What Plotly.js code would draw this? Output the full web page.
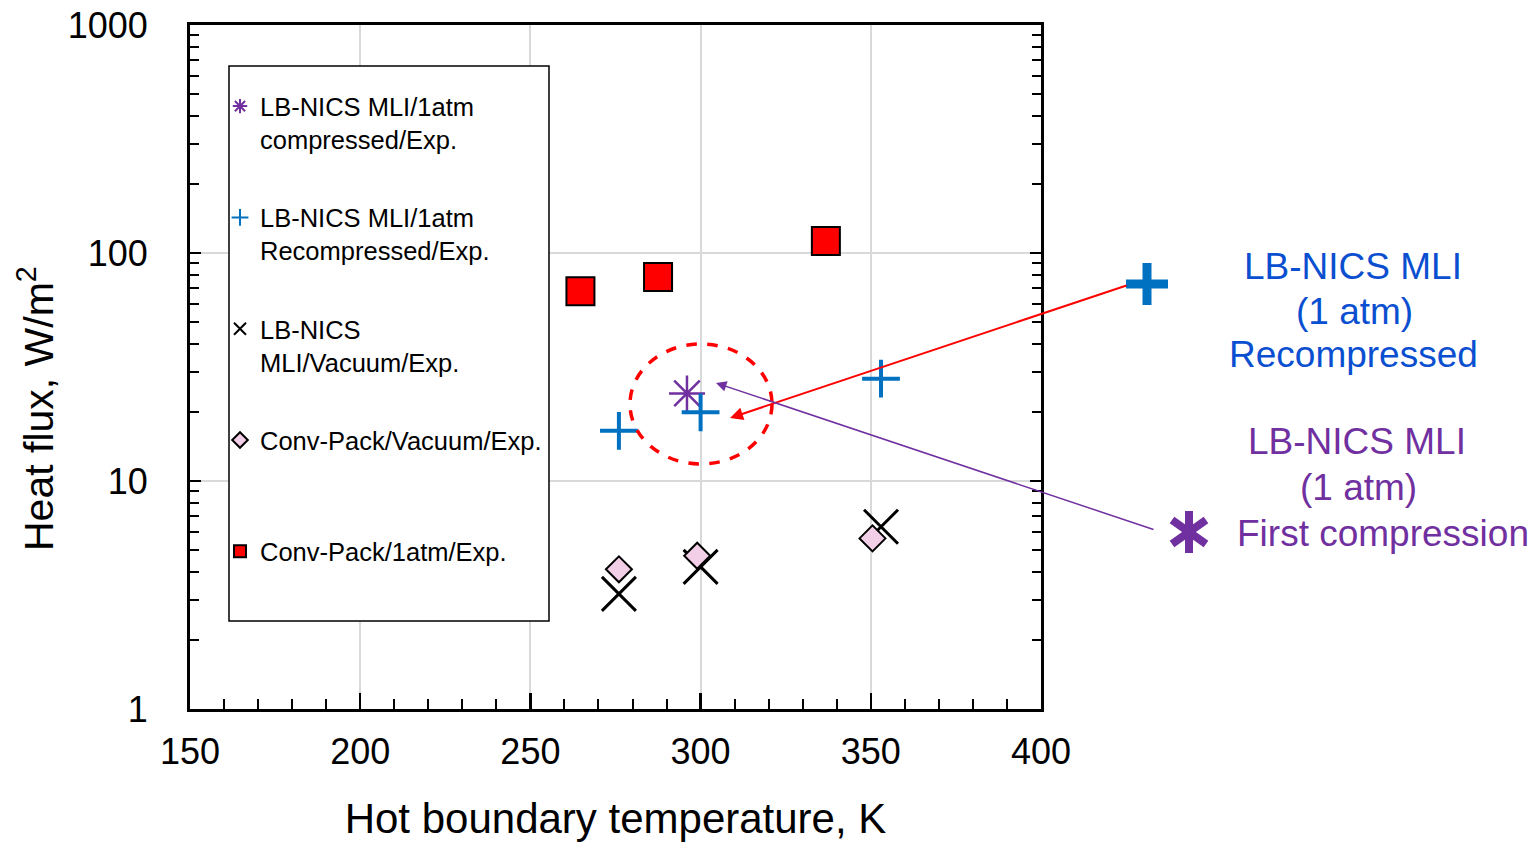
<!DOCTYPE html>
<html>
<head>
<meta charset="utf-8">
<script src="https://cdn.plot.ly/plotly-3.0.1.min.js"></script>
<style>html,body{margin:0;padding:0;background:#fff;}</style>
</head>
<body>
<div id="chart" style="width:1535px;height:842px;"></div>
<script>
// ---- Data ----
const tempCompressed = [296];
const fluxCompressed = [24.2];

const tempRecompressed = [276, 300, 353];
const fluxRecompressed = [16.6, 20.0, 28.1];

const tempMliVacuum = [276, 300, 353];
const fluxMliVacuum = [3.2, 4.2, 6.3];

const tempConvVacuum = [276, 299, 350.5];
const fluxConvVacuum = [4.1, 4.7, 5.6];

const tempConv1atm = [264.7, 287.5, 336.8];
const fluxConv1atm = [68, 78.5, 113];

const legendNames = [
  "LB-NICS MLI/1atm<br>compressed/Exp.",
  "LB-NICS MLI/1atm<br>Recompressed/Exp.",
  "LB-NICS<br>MLI/Vacuum/Exp.",
  "Conv-Pack/Vacuum/Exp.<br> ",
  "Conv-Pack/1atm/Exp.<br> "
];

const yTickVals = [1, 10, 100, 1000];
const yTickText = ["1", "10", "100", "1000"];
const yMinorVals = [2,3,4,5,6,7,8,9,20,30,40,50,60,70,80,90,200,300,400,500,600,700,800,900];

// ---- Layout helpers: pixel -> paper ----
const W = 1535, H = 842, ML = 190, MR = 494, MT = 25, MB = 133;
const PW = W - ML - MR, PH = H - MT - MB;
const px = v => (v - ML) / PW;
const py = v => (H - MB - v) / PH;

const FONT = "Liberation Sans, Arial, Helvetica, sans-serif";
const BLUE = "#0070C0", PURPLE = "#7030A0", TXTBLUE = "#0B4FD1";

const traces = [
  {
    x: tempMliVacuum, y: fluxMliVacuum, name: legendNames[2], legendrank: 3, legendgroup: "g3",
    mode: "markers", type: "scatter",
    marker: {symbol: "x-thin", size: 34, color: "black", line: {color: "black", width: 3}}
  },
  {
    x: tempConvVacuum, y: fluxConvVacuum, name: legendNames[3], legendrank: 4, legendgroup: "g4",
    mode: "markers", type: "scatter",
    marker: {symbol: "diamond", size: 20, color: "#F2CFE6", line: {color: "black", width: 2}}
  },
  {
    x: tempConv1atm, y: fluxConv1atm, name: legendNames[4], legendrank: 5, legendgroup: "g5",
    mode: "markers", type: "scatter",
    marker: {symbol: "square", size: 28, color: "#FF0000", line: {color: "black", width: 2}}
  },
  {
    x: tempCompressed, y: fluxCompressed, name: legendNames[0], legendrank: 1, legendgroup: "g1",
    mode: "markers", type: "scatter",
    marker: {symbol: "asterisk", size: 30, color: PURPLE, line: {color: PURPLE, width: 2.5}}
  },
  {
    x: tempRecompressed, y: fluxRecompressed, name: legendNames[1], legendrank: 2, legendgroup: "g2",
    mode: "markers", type: "scatter",
    marker: {symbol: "cross-thin", size: 27, color: BLUE, line: {color: BLUE, width: 4}}
  }
];

const lineShape = (x0, y0, x1, y1, color, width) => ({
  type: "line", xref: "paper", yref: "paper",
  x0: px(x0), y0: py(y0), x1: px(x1), y1: py(y1),
  line: {color: color, width: width}, layer: "above"
});

const shapes = [
  // legend box
  {type: "rect", xref: "paper", yref: "paper", x0: px(229), x1: px(549), y0: py(621), y1: py(66),
   fillcolor: "white", line: {color: "black", width: 1.5}, layer: "above"},
  // dashed circle
  {type: "circle", xref: "paper", yref: "paper", x0: px(630), x1: px(772), y0: py(464), y1: py(344),
   line: {color: "#FF0000", width: 3.5, dash: "dash"}, layer: "above"},
  // big blue cross (callout symbol)
  lineShape(1126, 284, 1168, 284, BLUE, 9),
  lineShape(1147, 263, 1147, 305, BLUE, 9),
  // big purple asterisk (callout symbol)
  lineShape(1189, 511, 1189, 553, PURPLE, 8),
  lineShape(1172, 520, 1206, 544, PURPLE, 8),
  lineShape(1172, 544, 1206, 520, PURPLE, 8)
];

const txt = (text, x, y, color, size, angle) => ({
  xref: "paper", yref: "paper", x: px(x), y: py(y), text: text, showarrow: false,
  textangle: angle || 0,
  xanchor: "center", yanchor: "middle", font: {family: FONT, size: size, color: color}
});

const annotations = [
  // arrows
  {xref: "paper", yref: "paper", x: px(730), y: py(418), ax: 1128 - 730, ay: 285 - 418,
   text: "", showarrow: true, arrowhead: 2, arrowsize: 1.3, arrowwidth: 2, arrowcolor: "#FF0000"},
  {xref: "paper", yref: "paper", x: px(716), y: py(383), ax: 1155 - 716, ay: 530 - 383,
   text: "", showarrow: true, arrowhead: 2, arrowsize: 1.4, arrowwidth: 1.5, arrowcolor: PURPLE},
  // y axis title
  txt("Heat flux, W/m<sup>2</sup>", 36, 409, "black", 41, -90),
  // callout texts
  txt("LB-NICS MLI", 1353, 266, TXTBLUE, 37),
  txt("(1 atm)", 1354, 311, TXTBLUE, 37),
  txt("Recompressed", 1353, 355, TXTBLUE, 37),
  txt("LB-NICS MLI", 1357, 441, PURPLE, 37),
  txt("(1 atm)", 1358, 487, PURPLE, 37),
  txt("First compression", 1383, 533, PURPLE, 37)
];

const layout = {
  width: W, height: H,
  margin: {l: ML, r: MR, t: MT, b: MB, pad: 0},
  paper_bgcolor: "white", plot_bgcolor: "white",
  font: {family: FONT, color: "black"},
  showlegend: true,
  legend: {
    x: px(220), y: py(83), xanchor: "left", yanchor: "top",
    bgcolor: "rgba(0,0,0,0)", borderwidth: 0,
    font: {family: FONT, size: 25.5, color: "black"},
    tracegroupgap: 42, valign: "top", itemsizing: "constant", itemwidth: 30
  },
  xaxis: {
    range: [150, 400], dtick: 50, tick0: 150,
    ticks: "inside", ticklen: 16, tickwidth: 2.5, tickcolor: "black",
    showline: true, linewidth: 3, linecolor: "black", mirror: true,
    showgrid: true, gridcolor: "#D9D9D9", gridwidth: 2, zeroline: false,
    tickfont: {family: FONT, size: 36, color: "black"},
    ticklabelstandoff: 9,
    minor: {dtick: 10, ticks: "inside", ticklen: 10, tickwidth: 2, tickcolor: "black", showgrid: false},
    title: {text: "Hot boundary temperature, K", font: {family: FONT, size: 42, color: "black"}}
  },
  yaxis: {
    type: "log", range: [0, 3],
    tickmode: "array", tickvals: yTickVals, ticktext: yTickText,
    ticks: "inside", ticklen: 11, tickwidth: 2.5, tickcolor: "black",
    showline: true, linewidth: 3, linecolor: "black", mirror: "ticks",
    showgrid: true, gridcolor: "#D9D9D9", gridwidth: 2, zeroline: false,
    tickfont: {family: FONT, size: 36, color: "black"},
    ticklabelstandoff: 32,
    minor: {tickmode: "array", tickvals: yMinorVals, ticks: "inside", ticklen: 9, tickwidth: 2, tickcolor: "black", showgrid: false}
  },
  shapes: shapes,
  annotations: annotations
};

Plotly.newPlot("chart", traces, layout, {displayModeBar: false, staticPlot: true});
</script>
</body>
</html>
